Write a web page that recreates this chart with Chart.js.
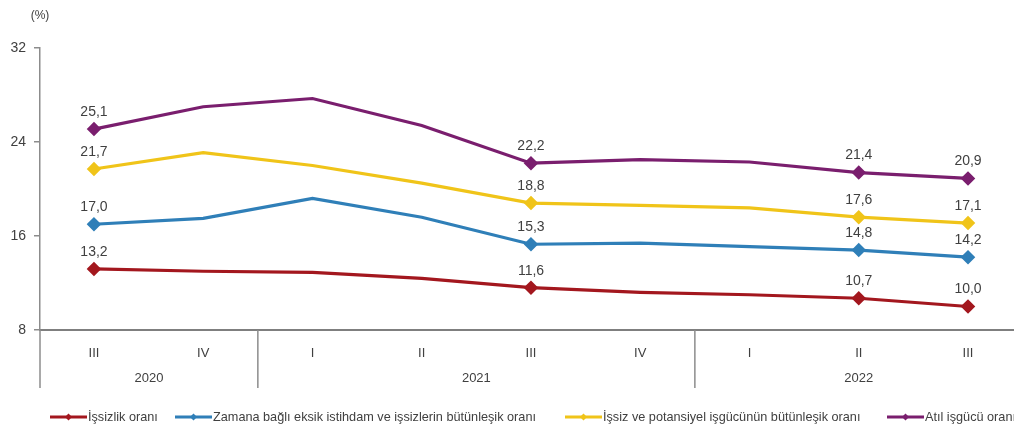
<!DOCTYPE html>
<html>
<head>
<meta charset="utf-8">
<script src="https://cdn.jsdelivr.net/npm/chart.js@4.4.1/dist/chart.umd.min.js"></script>
<style>
  html, body { margin:0; padding:0; background:#fff; overflow:hidden; }
  #wrap { width:1014px; height:429px; }
</style>
</head>
<body>
<div id="wrap"><canvas id="c" width="1014" height="429"></canvas></div>
<script>
// ---- data ----
const quarters = ['III','IV','I','II','III','IV','I','II','III'];
const years = ['2020','2021','2022'];
const yearGroupSizes = [2, 4, 3];
const yTicks = [8, 16, 24, 32];

const unemploymentRate = [13.2, 13.0, 12.9, 12.4, 11.6, 11.2, 11.0, 10.7, 10.0];
const timeRelatedRate   = [17.0, 17.5, 19.2, 17.6, 15.3, 15.4, 15.1, 14.8, 14.2];
const potentialRate     = [21.7, 23.1, 22.0, 20.5, 18.8, 18.6, 18.4, 17.6, 17.1];
const slackRate         = [25.1, 27.0, 27.7, 25.4, 22.2, 22.5, 22.3, 21.4, 20.9];
const labelledIndexes = [0, 4, 7, 8];

const seriesNames = [
  'İşsizlik oranı',
  'Zamana bağlı eksik istihdam ve işsizlerin bütünleşik oranı',
  'İşsiz ve potansiyel işgücünün bütünleşik oranı',
  'Atıl işgücü oranı'
];
const seriesColors = ['#a3171e', '#2f7fb8', '#f0c419', '#7a1e6e'];
const seriesValues = [unemploymentRate, timeRelatedRate, potentialRate, slackRate];

const FONT = '"Liberation Sans", Arial, sans-serif';
const TEXT = '#404040';

function fmt(v) { return v.toFixed(1).replace('.', ','); }

const extras = {
  id: 'extras',
  afterDraw(chart) {
    const ctx = chart.ctx;
    const xs = chart.scales.x;
    const area = chart.chartArea;
    ctx.save();
    // (%)
    ctx.fillStyle = TEXT;
    ctx.font = '12px ' + FONT;
    ctx.textAlign = 'center';
    ctx.textBaseline = 'middle';
    ctx.fillText('(%)', 40, 16);

    // data labels
    ctx.font = '14px ' + FONT;
    chart.data.datasets.forEach((ds, di) => {
      const meta = chart.getDatasetMeta(di);
      labelledIndexes.forEach(i => {
        const p = meta.data[i];
        ctx.fillStyle = TEXT;
        ctx.fillText(fmt(seriesValues[di][i]), p.x, p.y - 17);
      });
    });

    // separators & year labels
    ctx.strokeStyle = '#8c8c8c';
    ctx.lineWidth = 1.5;
    const bottom = area.bottom + 58;
    ctx.beginPath();
    ctx.moveTo(area.left, area.bottom);
    ctx.lineTo(area.left, bottom);
    ctx.stroke();
    ctx.font = '13px ' + FONT;
    let start = 0;
    yearGroupSizes.forEach((n, gi) => {
      const end = start + n - 1;
      const leftEdge = start === 0 ? area.left : xs.getPixelForValue(start - 0.5);
      const rightEdge = xs.getPixelForValue(end + 0.5);
      if (end < quarters.length - 1) {
        ctx.beginPath();
        ctx.moveTo(rightEdge, area.bottom);
        ctx.lineTo(rightEdge, bottom);
        ctx.stroke();
      }
      ctx.fillStyle = TEXT;
      ctx.fillText(years[gi], (leftEdge + rightEdge) / 2, area.bottom + 48);
      start += n;
    });

    // legend
    ctx.font = '12.7px ' + FONT;
    ctx.textAlign = 'left';
    const legendStarts = [50, 175, 565, 887];
    const ly = 417;
    seriesNames.forEach((name, i) => {
      const x = legendStarts[i];
      ctx.strokeStyle = seriesColors[i];
      ctx.lineWidth = 3;
      ctx.beginPath();
      ctx.moveTo(x, ly);
      ctx.lineTo(x + 37, ly);
      ctx.stroke();
      ctx.fillStyle = seriesColors[i];
      const cx = x + 18.5, r = 3.5;
      ctx.beginPath();
      ctx.moveTo(cx, ly - r); ctx.lineTo(cx + r, ly); ctx.lineTo(cx, ly + r); ctx.lineTo(cx - r, ly);
      ctx.closePath(); ctx.fill();
      ctx.fillStyle = TEXT;
      ctx.fillText(name, x + 38, ly);
    });
    ctx.restore();
  }
};

new Chart(document.getElementById('c'), {
  type: 'line',
  data: {
    datasets: seriesValues.map((vals, i) => ({
      label: seriesNames[i],
      data: vals.map((v, k) => ({ x: k, y: v })),
      borderColor: seriesColors[i],
      backgroundColor: seriesColors[i],
      borderWidth: 3.2,
      tension: 0,
      pointStyle: 'rectRot',
      pointRadius: ctx => labelledIndexes.includes(ctx.dataIndex) ? 5 : 0,
      pointHoverRadius: 0,
      fill: false
    }))
  },
  options: {
    responsive: false,
    animation: false,
    layout: { autoPadding: false, padding: { top: 48, right: 0, bottom: 0, left: 0 } },
    plugins: { legend: { display: false }, tooltip: { enabled: false } },
    scales: {
      x: {
        type: 'linear',
        min: -0.494,
        max: 8.421,
        afterBuildTicks(s) { s.ticks = quarters.map((q, k) => ({ value: k })); },
        grid: { display: false },
        border: { display: true, color: '#7f7f7f', width: 2 },
        ticks: {
          color: TEXT, font: { family: FONT, size: 13 }, padding: 8, maxRotation: 0, autoSkip: false,
          callback: v => quarters[v]
        },
        afterFit(s) { s.height = 99; s.paddingLeft = 0; s.paddingRight = 0; }
      },
      y: {
        min: 8, max: 32,
        afterBuildTicks(s) { s.ticks = yTicks.map(v => ({ value: v })); },
        grid: { display: true, drawOnChartArea: false, drawTicks: true, tickLength: 6, color: '#8c8c8c', lineWidth: 1.5 },
        border: { display: true, color: '#8c8c8c', width: 1.5 },
        ticks: { color: TEXT, font: { family: FONT, size: 14 }, padding: 8 },
        afterFit(s) { s.width = 40; }
      }
    }
  },
  plugins: [extras]
});
</script>
</body>
</html>
